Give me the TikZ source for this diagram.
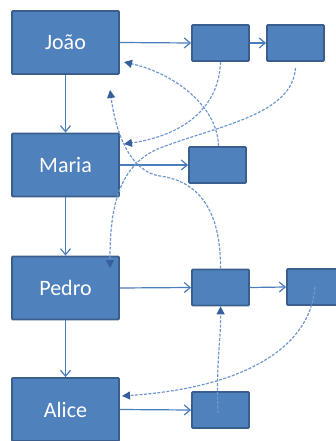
\documentclass[tikz,border=0pt]{standalone}
\usepackage{fontspec}
\setmainfont{Carlito}
\usetikzlibrary{arrows.meta}
\definecolor{boxfill}{HTML}{4F81BD}
\definecolor{boxline}{HTML}{3A5F8F}
\definecolor{linkcol}{HTML}{4A7EBB}
\definecolor{backcol}{HTML}{7099D0}
\definecolor{tipcol}{HTML}{35609C}
\begin{document}
\begin{tikzpicture}[x=1pt, y=-1pt,
    bigbox/.style={draw=boxline, fill=boxfill, line width=1.8pt, rounded corners=1pt,
        minimum width=107pt, minimum height=63pt, inner sep=0pt, text=white,
        font=\fontsize{22}{26}\selectfont},
    smallbox/.style={draw=boxline, fill=boxfill, line width=1.8pt, rounded corners=1pt,
        minimum width=57pt, minimum height=36pt, inner sep=0pt},
    link/.style={draw=linkcol, line width=1.2pt, -{Straight Barb[length=6pt, width=10pt]}},
    back/.style={draw=backcol, line width=1.2pt, dash pattern=on 3pt off 1.5pt,
        -{Triangle[length=8pt, width=8pt, color=tipcol]}}]
    \useasboundingbox (0,0) rectangle (336,441);

    % People
    \node (Joao) at (65.5,42.5) [bigbox] {João};
    \node (Maria) at (65.5,165) [bigbox] {Maria};
    \node (Pedro) at (65.5,288) [bigbox] {Pedro};
    \node (Alice) at (65.5,409.5) [bigbox] {Alice};

    % Small boxes
    \node (J1) at (220.5,43) [smallbox] {};
    \node (J2) at (295.5,43) [smallbox] {};
    \node (M1) at (217.5,165) [smallbox] {};
    \node (P1) at (220.5,287.5) [smallbox] {};
    \node (P2) at (315.5,287) [smallbox] {};
    \node (A1) at (220.5,410) [smallbox] {};

    % Arrows
    \draw[link] (Joao.east) -- (J1.west);
    \draw[link] (J1.east) -- (J2.west);
    \draw[link] (Joao.south) -- (Maria.north);
    \draw[link] (Maria.east) -- (M1.west);
    \draw[link] (Maria.south) -- (Pedro.north);
    \draw[link] (Pedro.east) -- (P1.west);
    \draw[link] (P1.east) -- (P2.west);
    \draw[link] (Pedro.south) -- (Alice.north);
    \draw[link] (Alice.east) -- (A1.west);

    % Dashed links back
    \coordinate (tJoao) at (124,62);
    \coordinate (tJoao2) at (110,90);
    \coordinate (tMaria) at (124,144);
    \coordinate (tPedro) at (110,268);
    \coordinate (tAlice) at (122,396);
    \coordinate (sP2) at (315,287);
    \coordinate (sA1) at (218,413);

    \draw[back] (J1.south) .. controls (219,110) and (180,136) .. (tMaria);
    \draw[back] ([yshift=-6pt]J2.south) .. controls (292,115) and (220,125) .. (160,148)
        .. controls (115,166) and (110,215) .. (tPedro);
    \draw[back] ([xshift=1pt]M1.north) .. controls (218,110) and (180,75) .. (tJoao);
    \draw[back] (P1.north) .. controls (221,200) and (190,180) .. (160,176)
        .. controls (133,172) and (117,140) .. (tJoao2);
    \draw[back] (sP2) .. controls (310,350) and (240,388) .. (tAlice);
    \draw[back] (sA1) .. controls (216,360) and (221,340) .. (P1.south);
\end{tikzpicture}
\end{document}
